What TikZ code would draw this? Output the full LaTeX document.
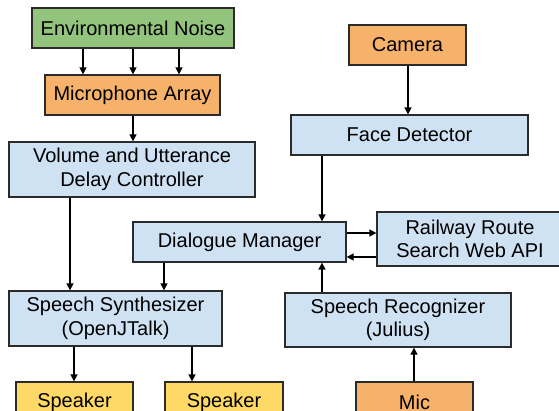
\documentclass[tikz,border=0pt]{standalone}
\usepackage{fontspec}
\setmainfont{Liberation Sans}
\usetikzlibrary{arrows.meta}
\definecolor{noisegreen}{HTML}{93C47D}
\definecolor{devorange}{HTML}{F6B26B}
\definecolor{modblue}{HTML}{CFE2F3}
\definecolor{spkyellow}{HTML}{FFD966}
\definecolor{edge}{HTML}{2B2B2B}
\tikzset{
  box/.style={draw=edge, line width=1.3pt, rectangle, inner sep=0pt, align=center,
    font=\fontsize{20}{23.5}\selectfont, text=black},
  greenbox/.style={box, fill=noisegreen},
  orangebox/.style={box, fill=devorange},
  bluebox/.style={box, fill=modblue},
  yellowbox/.style={box, fill=spkyellow},
  flow/.style={draw=black, line width=1.5pt, -{Triangle[length=7pt,width=7pt]}},
}
\begin{document}
\begin{tikzpicture}[x=1pt,y=-1pt]
\useasboundingbox (0,0) rectangle (559,411);
\clip (0,0) rectangle (559,411);
\fill[white] (0,0) rectangle (559,411);

% boxes
\node[greenbox, minimum width=202pt, minimum height=40pt] (env) at (133,28) {Environmental Noise};
\node[orangebox, minimum width=175pt, minimum height=40pt] (micarr) at (132.5,95) {Microphone Array};
\node[bluebox, minimum width=246pt, minimum height=55pt] (vol) at (132,169.5) {Volume and Utterance\\Delay Controller};
\node[bluebox, minimum width=213pt, minimum height=40pt] (dm) at (239.5,242) {Dialogue Manager};
\node[bluebox, minimum width=213pt, minimum height=55pt] (ss) at (115.5,318.5) {Speech Synthesizer\\(OpenJTalk)};
\node[yellowbox, minimum width=117pt, minimum height=40pt] (spka) at (74.5,402) {Speaker};
\node[yellowbox, minimum width=118pt, minimum height=40pt] (spkb) at (224,402) {Speaker};
\node[orangebox, minimum width=117pt, minimum height=40pt] (mic) at (414.5,402) {Mic};
\node[bluebox, minimum width=226pt, minimum height=54pt] (sr) at (398,320) {Speech Recognizer\\(Julius)};
\node[bluebox, minimum width=186pt, minimum height=54pt] (rail) at (470,239) {Railway Route\\Search Web API};
\node[orangebox, minimum width=117pt, minimum height=40pt] (cam) at (407.5,45) {Camera};
\node[bluebox, minimum width=237pt, minimum height=40pt] (face) at (409.5,135) {Face Detector};

% connectors
\draw[flow] (env.south -| 83,0) -- (micarr.north -| 83,0);
\draw[flow] (env.south -| 133,0) -- (micarr.north -| 133,0);
\draw[flow] (env.south -| 179,0) -- (micarr.north -| 179,0);
\draw[flow] (micarr.south -| 133,0) -- (vol.north -| 133,0);
\draw[flow] (vol.south -| 70,0) -- (ss.north -| 70,0);
\draw[flow] (dm.south -| 164,0) -- (ss.north -| 164,0);
\draw[flow] (ss.south -| 74,0) -- (spka.north -| 74,0);
\draw[flow] (ss.south -| 192,0) -- (spkb.north -| 192,0);
\draw[flow] (cam.south -| 408,0) -- (face.north -| 408,0);
\draw[flow] (face.south -| 322,0) -- (dm.north -| 322,0);
\draw[flow] (sr.north -| 322,0) -- (dm.south -| 322,0);
\draw[flow] (mic.north -| 414,0) -- (sr.south -| 414,0);
\draw[flow] (dm.east |- 0,233) -- (rail.west |- 0,233);
\draw[flow] (rail.west |- 0,257) -- (dm.east |- 0,257);
\end{tikzpicture}
\end{document}
